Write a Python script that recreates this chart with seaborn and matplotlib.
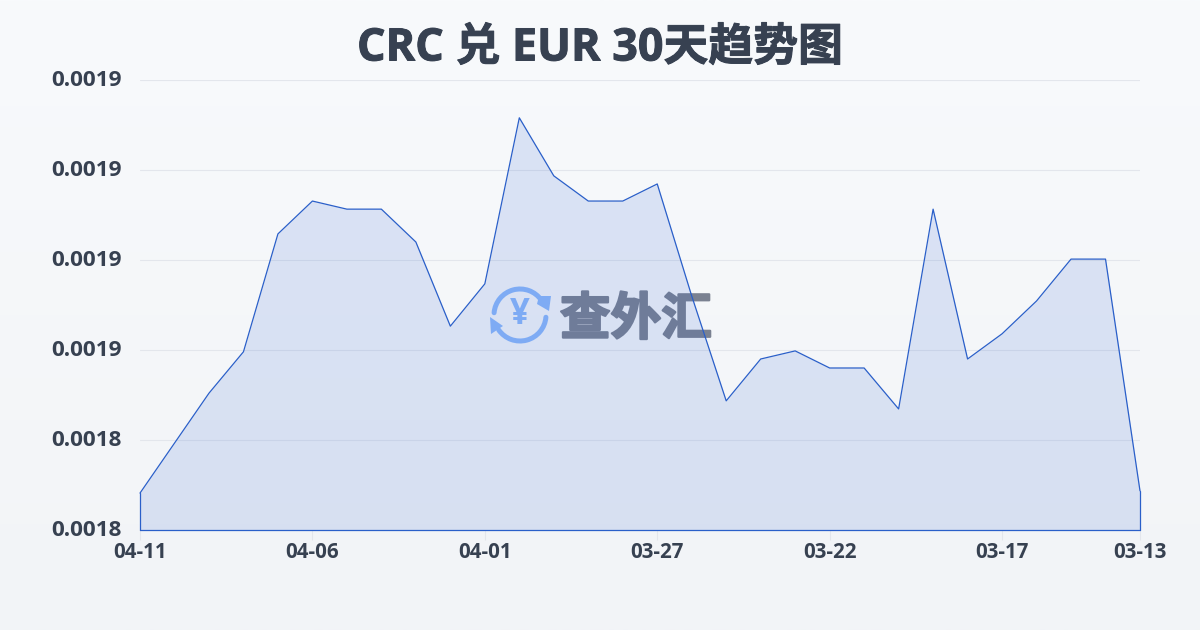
import numpy as np
import pandas as pd
import matplotlib
matplotlib.use("Agg")
import matplotlib.pyplot as plt
import matplotlib.patheffects as pe
from matplotlib.patches import Arc, Polygon
from matplotlib.transforms import ScaledTranslation
import seaborn as sns

# valores (do mais recente para o mais antigo)
rates = [0.0018282, 0.0018393, 0.0018504, 0.0018596, 0.0018858, 0.0018931,
         0.0018913, 0.0018913, 0.0018840, 0.0018653, 0.0018747, 0.0019116,
         0.0018987, 0.0018931, 0.0018931, 0.0018969, 0.0018720, 0.0018487,
         0.0018580, 0.0018598, 0.0018560, 0.0018560, 0.0018469, 0.0018913,
         0.0018580, 0.0018636, 0.0018709, 0.0018802, 0.0018802, 0.0018287]
tick_positions = [0, 5, 10, 15, 20, 25, 29]
tick_labels = ["04-11", "04-06", "04-01", "03-27", "03-22", "03-17", "03-13"]
y_ticks = [0.00182, 0.00184, 0.00186, 0.00188, 0.00190, 0.00192]
title = "CRC 兑 EUR 30天趋势图"

sns.set_theme(style="white")
plt.rcParams['font.family'] = ['Open Sans', 'Noto Sans CJK SC', 'DejaVu Sans']

TEXT = "#374151"
LINE = "#2a5fc9"
GRID = "#e3e6ec"

df = pd.DataFrame({"day": range(len(rates)), "rate": rates})

fig = plt.figure(figsize=(12, 6.3), dpi=100)

# fundo em degrade
bg = fig.add_axes([0, 0, 1, 1], zorder=0)
bg.imshow(np.linspace(0, 1, 256).reshape(-1, 1), aspect="auto",
          cmap=matplotlib.colors.LinearSegmentedColormap.from_list("bg", ["#f8fafc", "#f2f4f7"]))
bg.axis("off")

ax = fig.add_axes([140 / 1200, 100 / 630, 1000 / 1200, 450 / 630], zorder=4)
ax.patch.set_alpha(0)

ax.fill_between(df["day"], df["rate"], y_ticks[0], color="#2f62d0", alpha=0.14, lw=0, zorder=3)
sns.lineplot(data=df, x="day", y="rate", ax=ax, color=LINE, lw=0.9, zorder=5, clip_on=False)
# contorno fechado da area
ax.plot([0, 0], [y_ticks[0], rates[0]], color=LINE, lw=0.9, zorder=5, clip_on=False)
ax.plot([len(rates) - 1, len(rates) - 1], [y_ticks[0], rates[-1]], color=LINE, lw=0.9, zorder=5, clip_on=False)
ax.plot([0, len(rates) - 1], [y_ticks[0], y_ticks[0]], color=LINE, lw=0.9, zorder=5, clip_on=False)

ax.set_xlim(0, len(rates) - 1)
ax.set_ylim(y_ticks[0], y_ticks[-1])
ax.set_xlabel("")
ax.set_ylabel("")
ax.set_yticks(y_ticks)
ax.set_yticklabels([f"{v:.4f}" for v in y_ticks], fontsize=16.2, fontweight="bold", color=TEXT)
ax.set_xticks(tick_positions)
ax.set_xticklabels(tick_labels, fontsize=14.8, fontweight="bold", color=TEXT)
ax.tick_params(axis="y", length=0, pad=13)
ax.tick_params(axis="x", length=7, width=0.8, color=GRID, pad=2, bottom=True)
ax.grid(axis="y", color=GRID, lw=0.8)
ax.set_axisbelow(True)
sns.despine(ax=ax, left=True, bottom=True)
# sobe um pouco os rotulos do eixo y
for lab in ax.get_yticklabels():
    lab.set_transform(lab.get_transform() + ScaledTranslation(0, 1.5 / 100, fig.dpi_scale_trans))

fig.text(0.5, 1 - 49 / 630, title, ha="center", va="center", fontsize=32.3,
         fontweight="bold", color=TEXT,
         path_effects=[pe.withStroke(linewidth=0.7, foreground=TEXT)])

# marca d'agua em coordenadas de pixel, por baixo da area
wm = fig.add_axes([0, 0, 1, 1], zorder=2)
wm.set_xlim(0, 1200)
wm.set_ylim(630, 0)
wm.axis("off")
wm.patch.set_alpha(0)
ICON = "#8cb8fb"
cx, cy, r = 520, 315, 26
wm.add_patch(Arc((cx, cy), 2 * r, 2 * r, theta1=185, theta2=325, color=ICON, lw=3.6, capstyle="round"))
wm.add_patch(Arc((cx, cy), 2 * r, 2 * r, theta1=5, theta2=145, color=ICON, lw=3.6, capstyle="round"))
wm.add_patch(Polygon([[539, 296], [551, 296], [549, 311], [537, 304]], color=ICON, lw=0))
wm.add_patch(Polygon([[490, 317], [503, 326], [491, 334]], color=ICON, lw=0))
wm.text(cx, cy, "¥", ha="center", va="center", fontsize=25, fontweight="bold", color=ICON,
        family=["Open Sans", "DejaVu Sans"])
wm.text(636, 320, "查外汇", ha="center", va="center", fontsize=36.5, fontweight="bold",
        color="#7a8191", family=["Noto Sans CJK SC"],
        path_effects=[pe.withStroke(linewidth=1.6, foreground="#7a8191")])

fig.savefig("out.png", dpi=100)
plt.close(fig)
